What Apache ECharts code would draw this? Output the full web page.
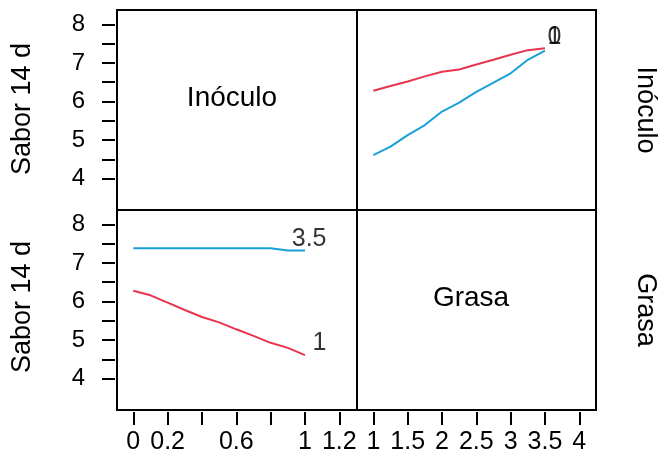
<!DOCTYPE html>
<html>
<head>
<meta charset="utf-8">
<script src="https://cdn.jsdelivr.net/npm/echarts@6/dist/echarts.min.js"></script>
<style>html,body{margin:0;padding:0;background:#fff;}#c{width:659px;height:456px;}</style>
</head>
<body>
<div id="c"></div>
<script>
// ---- data ----
var grasaLevels = [1, 1.25, 1.5, 1.75, 2, 2.25, 2.5, 2.75, 3, 3.25, 3.5];
var saborInoculo0 = [6.28, 6.40, 6.52, 6.65, 6.77, 6.83, 6.96, 7.08, 7.21, 7.33, 7.38];
var saborInoculo1 = [4.61, 4.83, 5.13, 5.39, 5.74, 5.97, 6.25, 6.49, 6.73, 7.08, 7.32];
var inoculoLevels = [0, 0.1, 0.2, 0.3, 0.4, 0.5, 0.6, 0.7, 0.8, 0.9, 1];
var saborGrasa35 = [7.38, 7.38, 7.38, 7.38, 7.38, 7.38, 7.38, 7.38, 7.38, 7.32, 7.32];
var saborGrasa1 = [6.28, 6.16, 5.97, 5.78, 5.60, 5.46, 5.28, 5.11, 4.93, 4.80, 4.61];
var yTicks = [4, 4.5, 5, 5.5, 6, 6.5, 7, 7.5, 8];
var yLabels = [4, 5, 6, 7, 8];
var inocTicks = [0, 0.2, 0.4, 0.6, 0.8, 1, 1.2];
var inocLabels = [0, 0.2, 0.6, 1, 1.2];
var grasaTicks = [1, 1.5, 2, 2.5, 3, 3.5, 4];
var varNames = ['Inóculo', 'Grasa'];
var yName = 'Sabor 14 d';

var RED = '#E8354E', BLUE = '#1AA0D8';
var FONT = 'Liberation Sans, Arial, sans-serif';
var yMin = 3.19, yMax = 8.37;
var inocMin = -0.095, inocMax = 1.303;
var grMin = 0.762, grMax = 4.243;

function pairs(xs, ys) { return xs.map(function (x, i) { return [x, ys[i]]; }); }
function last(xs, ys) { return [[xs[xs.length - 1], ys[ys.length - 1]]]; }

var gridBase = { show: true, borderColor: '#000', borderWidth: 2, backgroundColor: 'transparent' };
var grids = [
  Object.assign({ left: 117, top: 10, width: 240, height: 200 }, gridBase),
  Object.assign({ left: 357, top: 10, width: 239, height: 200 }, gridBase),
  Object.assign({ left: 117, top: 210, width: 240, height: 200 }, gridBase),
  Object.assign({ left: 357, top: 210, width: 239, height: 200 }, gridBase)
];

function hiddenAxis(idx, mn, mx) {
  return { type: 'value', gridIndex: idx, min: mn, max: mx, show: false, splitLine: { show: false }, axisLine: { onZero: false } };
}
function xAxisShown(idx, mn, mx, ticks, labels) {
  return {
    type: 'value', gridIndex: idx, min: mn, max: mx, position: 'bottom', offset: 2,
    axisLine: { show: false, onZero: false },
    splitLine: { show: false },
    axisTick: { show: true, length: 13, inside: false, customValues: ticks, lineStyle: { color: '#000', width: 2 } },
    axisLabel: { show: true, customValues: labels, margin: 18, color: '#000', fontSize: 25, fontFamily: FONT }
  };
}
function yAxisShown(idx) {
  return {
    type: 'value', gridIndex: idx, min: yMin, max: yMax, position: 'left', offset: 2,
    axisLine: { show: false, onZero: false },
    splitLine: { show: false },
    axisTick: { show: true, length: 13, inside: false, customValues: yTicks, lineStyle: { color: '#000', width: 2 } },
    axisLabel: { show: true, customValues: yLabels, margin: 30, color: '#000', fontSize: 24, fontFamily: FONT }
  };
}

function lineSeries(xi, yi, data, color) {
  return { type: 'line', xAxisIndex: xi, yAxisIndex: yi, data: data, showSymbol: false, symbol: 'none',
    lineStyle: { color: color, width: 2 }, silent: true, animation: false, z: 3 };
}
function labelSeries(xi, yi, data, text, dx, dy) {
  return { type: 'scatter', xAxisIndex: xi, yAxisIndex: yi, data: data, symbolSize: 1,
    itemStyle: { color: 'rgba(0,0,0,0)' }, silent: true, animation: false, z: 4,
    label: { show: true, formatter: text, position: [dx, dy], align: 'right', verticalAlign: 'middle',
      color: '#000', fontSize: 25, fontFamily: FONT } };
}

var option = {
  animation: false,
  backgroundColor: '#fff',
  grid: grids,
  xAxis: [
    hiddenAxis(0, inocMin, inocMax),
    hiddenAxis(1, grMin, grMax),
    xAxisShown(2, inocMin, inocMax, inocTicks, inocLabels),
    xAxisShown(3, grMin, grMax, grasaTicks, grasaTicks)
  ],
  yAxis: [
    yAxisShown(0),
    hiddenAxis(1, yMin, yMax),
    yAxisShown(2),
    hiddenAxis(3, yMin, yMax)
  ],
  series: [
    lineSeries(1, 1, pairs(grasaLevels, saborInoculo0), RED),
    lineSeries(1, 1, pairs(grasaLevels, saborInoculo1), BLUE),
    labelSeries(1, 1, last(grasaLevels, saborInoculo0), '0', 17, -11),
    labelSeries(1, 1, last(grasaLevels, saborInoculo0), '1', 17, -11),
    lineSeries(2, 2, pairs(inoculoLevels, saborGrasa35), BLUE),
    lineSeries(2, 2, pairs(inoculoLevels, saborGrasa1), RED),
    labelSeries(2, 2, last(inoculoLevels, saborGrasa35), '3.5', 22, -11),
    labelSeries(2, 2, last(inoculoLevels, saborGrasa1), '1', 22, -12)
  ],
  graphic: [
    { type: 'text', x: 232, y: 98, style: { text: varNames[0], fill: '#000', font: '28px ' + FONT, textAlign: 'center', textVerticalAlign: 'middle' } },
    { type: 'text', x: 471, y: 298, style: { text: varNames[1], fill: '#000', font: '28px ' + FONT, textAlign: 'center', textVerticalAlign: 'middle' } },
    { type: 'text', x: 23, y: 109, rotation: Math.PI / 2, style: { text: yName, fill: '#000', font: '27px ' + FONT, textAlign: 'center', textVerticalAlign: 'middle' } },
    { type: 'text', x: 23, y: 307, rotation: Math.PI / 2, style: { text: yName, fill: '#000', font: '27px ' + FONT, textAlign: 'center', textVerticalAlign: 'middle' } },
    { type: 'text', x: 645, y: 110, rotation: -Math.PI / 2, style: { text: varNames[0], fill: '#000', font: '27px ' + FONT, textAlign: 'center', textVerticalAlign: 'middle' } },
    { type: 'text', x: 645, y: 310, rotation: -Math.PI / 2, style: { text: varNames[1], fill: '#000', font: '27px ' + FONT, textAlign: 'center', textVerticalAlign: 'middle' } }
  ]
};
var chart = echarts.init(document.getElementById('c'), null, { renderer: 'canvas' });
chart.setOption(option);
</script>
</body>
</html>
